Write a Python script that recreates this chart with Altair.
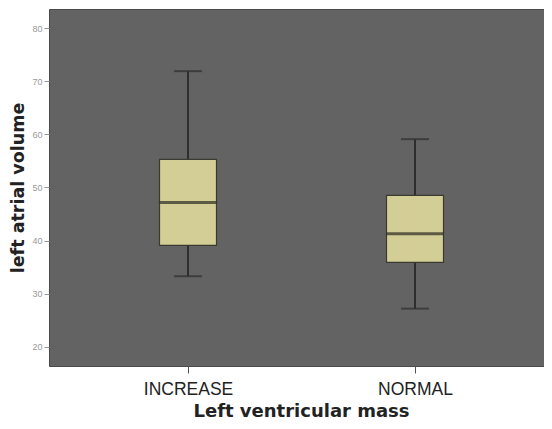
import altair as alt
import pandas as pd

categories = ["INCREASE", "NORMAL"]
lower = [33.3, 27.2]
q1 = [39.1, 35.9]
median = [47.2, 41.3]
q3 = [55.3, 48.5]
upper = [71.9, 59.1]

df = pd.DataFrame({"cat": categories, "lower": lower, "q1": q1,
                   "median": median, "q3": q3, "upper": upper})

xenc = alt.X("cat:N", title="Left ventricular mass",
             scale=alt.Scale(type="point", padding=0, range=[139, 366]),
             axis=alt.Axis(labelAngle=0, labelFontSize=17.5, labelColor="#222",
                           labelFont="Liberation Sans", tickColor="#555",
                           tickSize=7, labelPadding=7, domain=False,
                           titleFontSize=18, titleFont="DejaVu Sans",
                           titleFontWeight="bold", titleColor="#222",
                           titleBaseline="alphabetic", titleY=50, titleX=252))
yscale = alt.Scale(domain=[16.4, 83.6], nice=False, zero=False)
yaxis = alt.Axis(values=[20, 30, 40, 50, 60, 70, 80], labelFontSize=9,
                 labelColor="#999", labelFont="Liberation Sans",
                 tickColor="#999", tickSize=5, labelPadding=2, grid=False,
                 domain=False, titleFontSize=17.5, titleFont="DejaVu Sans",
                 titleFontWeight="bold", titleColor="#222", titlePadding=4)

base = alt.Chart(df)

whisker = base.mark_rule(color="#2e2e2e", strokeWidth=2).encode(
    x=xenc, y=alt.Y("lower:Q", scale=yscale, axis=yaxis, title="left atrial volume"),
    y2="upper:Q")
cap_lo = base.mark_tick(color="#2e2e2e", size=28, thickness=2).encode(
    x="cat:N", y="lower:Q")
cap_hi = base.mark_tick(color="#2e2e2e", size=28, thickness=2).encode(
    x="cat:N", y="upper:Q")
box = base.mark_bar(size=57, fill="#d2ce96", stroke="#3a3a30", strokeWidth=1.2).encode(
    x="cat:N", y="q1:Q", y2="q3:Q")
med = base.mark_tick(color="#2a2a1e", size=57, thickness=3).encode(
    x="cat:N", y="median:Q")

chart = alt.layer(whisker, box, med, cap_lo, cap_hi).properties(
    width=495, height=357,
    autosize=alt.AutoSizeParams(type="none"),
    padding={"left": 41, "top": 1, "right": 0, "bottom": 55},
).configure_view(fill="#636363", stroke="#4a4a4a", strokeWidth=1)

chart.save("out.html", embed_options={"renderer": "svg", "actions": False})
